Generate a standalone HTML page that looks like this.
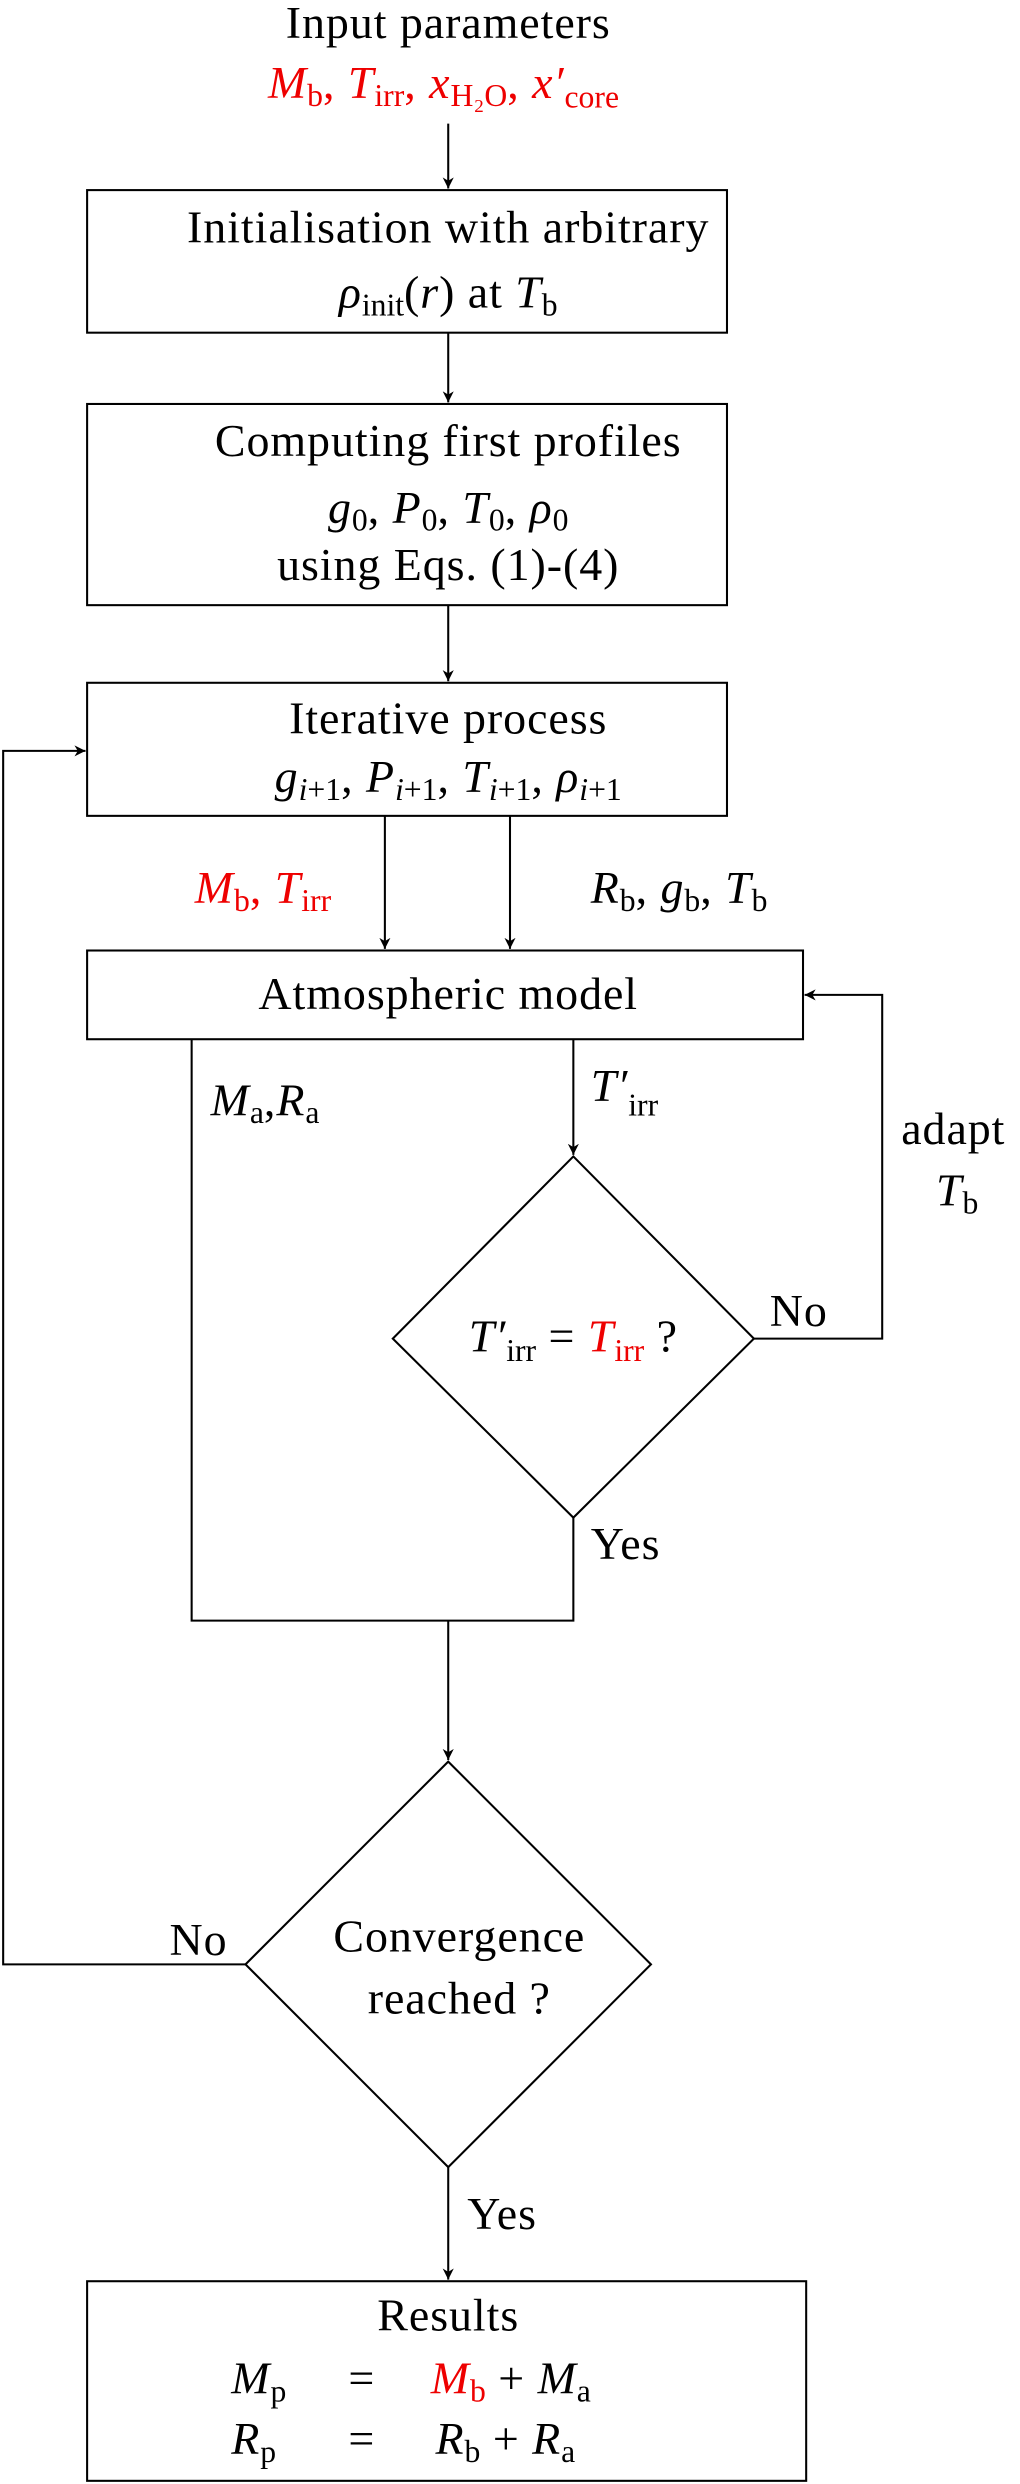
<!DOCTYPE html>
<html><head><meta charset="utf-8"><style>
html,body{margin:0;padding:0;background:#fff}
svg{display:block}
text{font-family:"Liberation Serif",serif;font-size:29px;fill:#000;letter-spacing:0.6px}
.r{fill:#e00}
.i{font-style:italic}
.s{font-size:20px;letter-spacing:0}
</style></head><body>
<svg width="1020" height="2484" viewBox="0 0 644 1568" preserveAspectRatio="none" xmlns="http://www.w3.org/2000/svg">
<defs><marker id="a" viewBox="0 0 10 10" refX="10" refY="5" markerWidth="7" markerHeight="7" orient="auto" markerUnits="userSpaceOnUse"><path d="M0,0 L10,5 L0,10 L3,5z" fill="#000"/></marker></defs>
<g stroke="#000" stroke-width="1.3" fill="none">
<rect x="55" y="120" width="404" height="90"/>
<rect x="55" y="255" width="404" height="127"/>
<rect x="55" y="431" width="404" height="84"/>
<rect x="55" y="600" width="452" height="56"/>
<rect x="55" y="1440" width="454" height="126"/>
<polygon points="362,730 476,845 362,958 248,845"/>
<polygon points="283,1112 411,1240 283,1368 155,1240"/>
<line x1="283" y1="78" x2="283" y2="119" marker-end="url(#a)"/>
<line x1="283" y1="210" x2="283" y2="254" marker-end="url(#a)"/>
<line x1="283" y1="382" x2="283" y2="430" marker-end="url(#a)"/>
<line x1="243" y1="515" x2="243" y2="599" marker-end="url(#a)"/>
<line x1="322" y1="515" x2="322" y2="599" marker-end="url(#a)"/>
<line x1="362" y1="656" x2="362" y2="729" marker-end="url(#a)"/>
<polyline points="121,656 121,1023 362,1023 362,958"/>
<line x1="283" y1="1023" x2="283" y2="1111" marker-end="url(#a)"/>
<polyline points="476,845 557,845 557,628 508,628" marker-end="url(#a)"/>
<polyline points="155,1240 2,1240 2,474 54,474" marker-end="url(#a)"/>
<line x1="283" y1="1368" x2="283" y2="1439" marker-end="url(#a)"/>
</g>
<g text-anchor="middle">
<text x="283" y="24">Input parameters</text>
<text x="280" y="62" class="r"><tspan class="i">M</tspan><tspan class="s" dy="5">b</tspan><tspan dy="-5">, </tspan><tspan class="i">T</tspan><tspan class="s" dy="5">irr</tspan><tspan dy="-5">, </tspan><tspan class="i">x</tspan><tspan class="s" dy="5">H₂O</tspan><tspan dy="-5">, </tspan><tspan class="i">x′</tspan><tspan class="s" dy="6">core</tspan></text>
<text x="283" y="153">Initialisation with arbitrary</text>
<text x="283" y="194"><tspan class="i">ρ</tspan><tspan class="s" dy="5">init</tspan><tspan dy="-5">(</tspan><tspan class="i">r</tspan><tspan>) at </tspan><tspan class="i">T</tspan><tspan class="s" dy="5">b</tspan></text>
<text x="283" y="288">Computing first profiles</text>
<text x="283" y="330"><tspan class="i">g</tspan><tspan class="s" dy="5">0</tspan><tspan dy="-5">, </tspan><tspan class="i">P</tspan><tspan class="s" dy="5">0</tspan><tspan dy="-5">, </tspan><tspan class="i">T</tspan><tspan class="s" dy="5">0</tspan><tspan dy="-5">, </tspan><tspan class="i">ρ</tspan><tspan class="s" dy="5">0</tspan></text>
<text x="283" y="366">using Eqs. (1)-(4)</text>
<text x="283" y="463">Iterative process</text>
<text x="283" y="500"><tspan class="i">g</tspan><tspan class="s i" dy="5">i</tspan><tspan class="s">+1</tspan><tspan dy="-5">, </tspan><tspan class="i">P</tspan><tspan class="s i" dy="5">i</tspan><tspan class="s">+1</tspan><tspan dy="-5">, </tspan><tspan class="i">T</tspan><tspan class="s i" dy="5">i</tspan><tspan class="s">+1</tspan><tspan dy="-5">, </tspan><tspan class="i">ρ</tspan><tspan class="s i" dy="5">i</tspan><tspan class="s">+1</tspan></text>
<text x="283" y="637">Atmospheric model</text>
<text x="362" y="853"><tspan class="i">T′</tspan><tspan class="s" dy="6">irr</tspan><tspan dy="-6"> = </tspan><tspan class="i r">T</tspan><tspan class="s r" dy="6">irr</tspan><tspan dy="-6"> ?</tspan></text>
<text x="290" y="1232">Convergence</text>
<text x="290" y="1271">reached ?</text>
<text x="283" y="1471">Results</text>
</g>
<text x="569" y="722">adapt</text>
<text x="591" y="761"><tspan class="i">T</tspan><tspan class="s" dy="5">b</tspan></text>
<text x="123" y="570" class="r"><tspan class="i">M</tspan><tspan class="s" dy="5">b</tspan><tspan dy="-5">, </tspan><tspan class="i">T</tspan><tspan class="s" dy="5">irr</tspan></text>
<text x="373" y="570"><tspan class="i">R</tspan><tspan class="s" dy="5">b</tspan><tspan dy="-5">, </tspan><tspan class="i">g</tspan><tspan class="s" dy="5">b</tspan><tspan dy="-5">, </tspan><tspan class="i">T</tspan><tspan class="s" dy="5">b</tspan></text>
<text x="133" y="704"><tspan class="i">M</tspan><tspan class="s" dy="5">a</tspan><tspan dy="-5">,</tspan><tspan class="i">R</tspan><tspan class="s" dy="5">a</tspan></text>
<text x="373" y="695"><tspan class="i">T′</tspan><tspan class="s" dy="9">irr</tspan></text>
<text x="486" y="837">No</text>
<text x="373" y="984">Yes</text>
<text x="107" y="1234">No</text>
<text x="295" y="1407">Yes</text>
<text x="146" y="1511"><tspan class="i">M</tspan><tspan class="s" dy="5">p</tspan><tspan dy="-5" x="220">=</tspan><tspan x="272" class="i r">M</tspan><tspan class="s r" dy="5">b</tspan><tspan dy="-5"> + </tspan><tspan class="i">M</tspan><tspan class="s" dy="5">a</tspan></text>
<text x="146" y="1549"><tspan class="i">R</tspan><tspan class="s" dy="5">p</tspan><tspan dy="-5" x="220">=</tspan><tspan x="275" class="i">R</tspan><tspan class="s" dy="5">b</tspan><tspan dy="-5"> + </tspan><tspan class="i">R</tspan><tspan class="s" dy="5">a</tspan></text>
</svg>
</body></html>
